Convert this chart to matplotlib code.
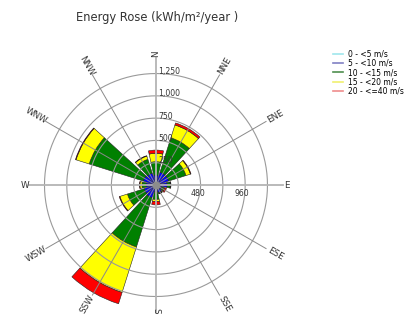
import numpy as np
import matplotlib
matplotlib.use("Agg")
import matplotlib.pyplot as plt
from matplotlib.lines import Line2D

# ------------------------------------------------------------
# Data : energy per direction sector, split by wind speed bin
# ------------------------------------------------------------

directions = ["N", "NNE", "ENE", "E", "ESE", "SSE",
              "S", "SSW", "WSW", "W", "WNW", "NNW"]

speed_bins = ["0 - <5 m/s", "5 - <10 m/s", "10 - <15 m/s",
              "15 - <20 m/s", "20 - <=40 m/s"]

e_0_5 = [20, 20, 20, 20, 15, 15, 15, 20, 20, 20, 20, 20]
e_5_10 = [92, 130, 130, 105, 55, 75, 63, 130, 120, 92, 130, 120]
e_10_15 = [149, 405, 203, 35, 25, 10, 84, 578, 196, 45, 635, 162]
e_15_20 = [94, 151, 52, 5, 10, 3, 23, 535, 89, 23, 155, 38]
e_20_40 = [37, 24, 7, 3, 18, 2, 38, 133, 7, 5, 7, 5]

ring_values = [250, 500, 750, 1000, 1250]
ring_labels = ["250", "500", "750", "1,000", "1,250"]
side_values = [470, 960]
side_labels = ["480", "960"]

bar_colors = ["#00FFFF", "#0000FF", "#008000", "#FFFF00", "#FF0000"]
legend_colors = ["#9fe6ec", "#8080c4", "#4f8f4f", "#f0f070", "#ef8c8c"]

# ------------------------------------------------------------
# Figure
# ------------------------------------------------------------

fig = plt.figure(figsize=(4.17, 3.22), dpi=100)

ax = fig.add_axes([0.0532, 0.0099, 0.6417, 0.831], projection="polar")
ax.set_theta_zero_location("N")
ax.set_theta_direction(-1)
ax.set_ylim(0, 1500)
ax.grid(False)
ax.set_xticks([])
ax.set_yticks([])
ax.spines["polar"].set_visible(False)
ax.patch.set_alpha(0)

theta = np.deg2rad(np.arange(len(directions)) * 30)
width = np.deg2rad(25)

series = [e_0_5, e_5_10, e_10_15, e_15_20, e_20_40]
bottom = np.zeros(len(directions))
for vals, col in zip(series, bar_colors):
    ax.bar(theta, vals, width=width, bottom=bottom, color=col,
           edgecolor="#222222", linewidth=0.4, zorder=2)
    bottom = bottom + np.array(vals)

# rings
t = np.linspace(0, 2 * np.pi, 361)
for r in ring_values:
    ax.plot(t, np.full_like(t, r), color="#9a9a9a", lw=0.8, zorder=3)

# spokes
for i, a in enumerate(theta):
    if i % 3 == 0:
        ax.plot([a, a], [0, 1425], color="#b4b4b4", lw=1.3, zorder=3)
    else:
        ax.plot([a, a], [0, 1425], color="#8a8a8a", lw=0.7, zorder=3)

ax.scatter([0], [0], s=22, color="#8c8c8c", zorder=4)

# direction labels, rotated along the spokes
for name, a in zip(directions, np.arange(len(directions)) * 30):
    rot = 90 - a
    while rot < -90:
        rot += 180
    while rot > 90:
        rot -= 180
    if name == "S":
        r_lab = 1405
    elif len(name) == 1:
        r_lab = 1470
    else:
        r_lab = 1545
    ax.text(np.deg2rad(a), r_lab, name, rotation=rot, ha="center",
            va="center", fontsize=6.3, color="#333333",
            rotation_mode="anchor")

# ring labels along N
for r, lab in zip(ring_values, ring_labels):
    ax.annotate(lab, xy=(0, r), xytext=(1.5, 1.5), textcoords="offset points",
                ha="left", va="center", fontsize=5.6, color="#333333")

# labels along E
for r, lab in zip(side_values, side_labels):
    ax.annotate(lab, xy=(np.pi / 2, r), xytext=(0, -3), textcoords="offset points",
                ha="center", va="top", fontsize=5.6, color="#333333")

fig.text(157 / 417, 1 - 17 / 322, "Energy Rose (kWh/m²/year )",
         ha="center", va="center", fontsize=8.3, color="#333333")

handles = [Line2D([], [], color=c, lw=1.2) for c in legend_colors]
fig.legend(handles, speed_bins, loc="upper left",
           bbox_to_anchor=(328 / 417, 1 - 44 / 322), frameon=False,
           fontsize=5.5, handlelength=1.2, handletextpad=0.7,
           labelspacing=0.05, borderpad=0.2)

fig.savefig("out.png", dpi=100)
